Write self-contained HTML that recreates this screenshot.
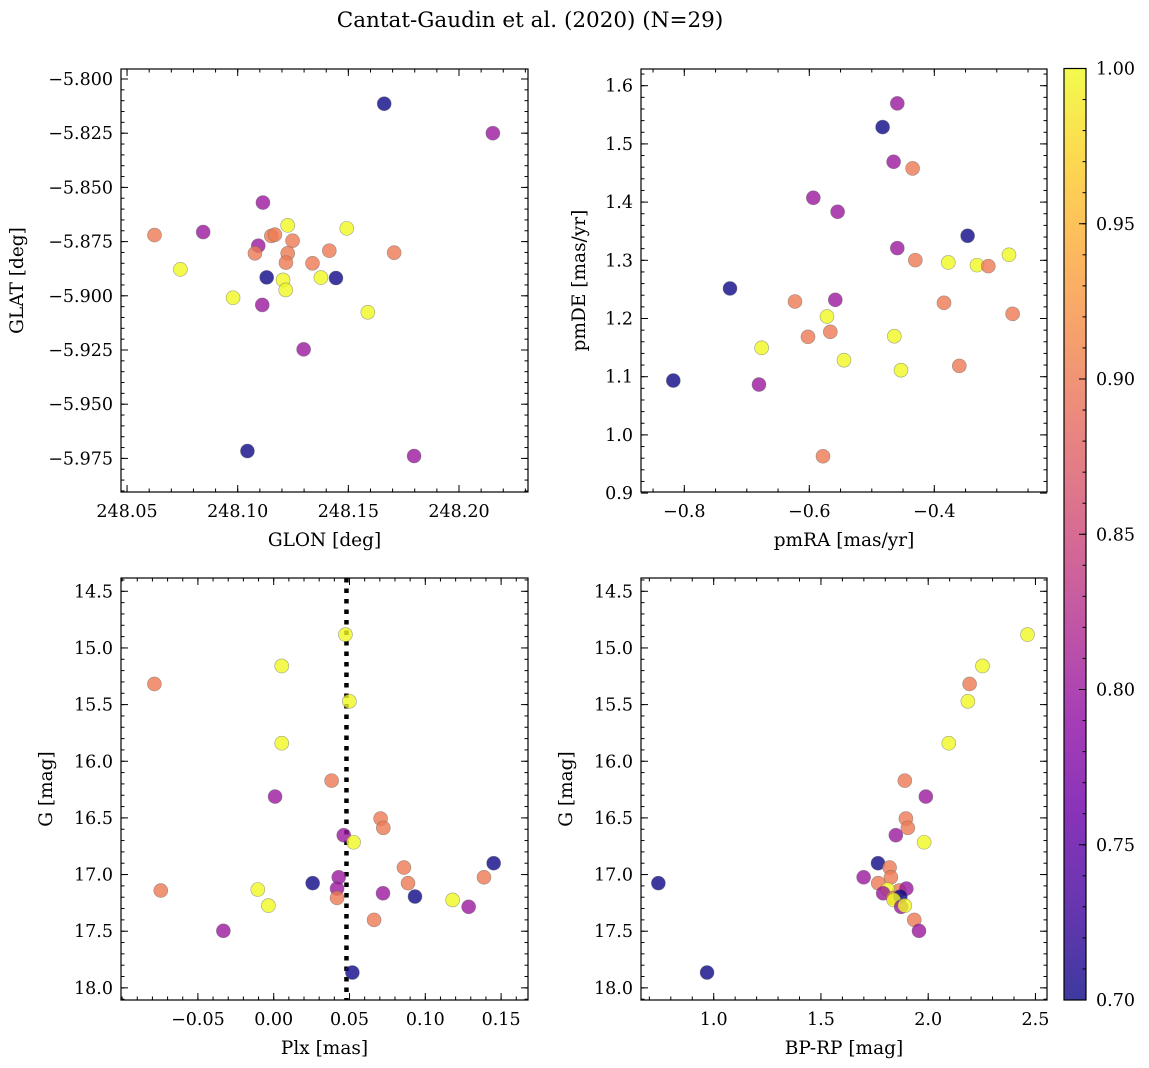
<!DOCTYPE html>
<html><head><meta charset="utf-8">
<style>
html,body{margin:0;padding:0;background:#fff;}
svg{display:block;font-family:"DejaVu Serif","Liberation Serif",serif;}
</style></head>
<body>
<svg id="fig" width="1149" height="1068" viewBox="0 0 1149 1068">
<text x="530" y="27" font-size="21.5" text-anchor="middle">Cantat-Gaudin et al. (2020) (N=29)</text>
</svg>
<script>
// Panel 1 data: GLON / GLAT
const glon = [248.1662,248.2153,248.1114,248.0624,248.0844,248.1226,248.1493,248.1152,248.1168,248.1248,248.1093,248.1078,248.1226,248.1414,248.1707,248.0741,248.1218,248.1338,248.1131,248.1205,248.1376,248.1444,248.1217,248.0979,248.1111,248.1588,248.1298,248.1044,248.1797];
const glat = [-5.8114,-5.825,-5.857,-5.872,-5.8706,-5.8675,-5.8689,-5.8724,-5.8718,-5.8746,-5.8769,-5.8804,-5.8804,-5.8792,-5.8801,-5.8878,-5.8847,-5.8850,-5.8915,-5.8927,-5.8916,-5.8918,-5.8973,-5.9009,-5.9042,-5.9076,-5.9247,-5.9716,-5.9739];
const probPos = [0.7,0.8,0.8,0.9,0.8,1,1,0.9,0.9,0.9,0.8,0.9,0.9,0.9,0.9,1,0.9,0.9,0.7,1,1,0.7,1,1,0.8,1,0.8,0.7,0.8];
// Panel 2 data: proper motions
const pmra = [-0.4592,-0.4827,-0.4651,-0.4347,-0.5936,-0.5547,-0.3467,-0.4592,-0.4304,-0.3776,-0.3317,-0.3136,-0.2805,-0.7269,-0.6229,-0.5584,-0.3845,-0.2747,-0.5717,-0.5664,-0.6021,-0.4640,-0.6763,-0.5445,-0.3600,-0.4533,-0.8176,-0.6805,-0.5781];
const pmde = [1.5696,1.5289,1.4693,1.4579,1.4074,1.3834,1.3421,1.3209,1.3003,1.2963,1.2917,1.2900,1.3095,1.2516,1.2292,1.2321,1.2269,1.2080,1.2034,1.1771,1.1685,1.1696,1.1496,1.1284,1.1186,1.1112,1.0934,1.0865,0.9633];
const probPm = [0.8,0.7,0.8,0.9,0.8,0.8,0.7,0.8,0.9,1,1,0.9,1,0.7,0.9,0.8,0.9,0.9,1,0.9,0.9,1,1,1,0.9,1,0.7,0.8,0.9];
// Panels 3,4 data: parallax, colour, magnitude
const gmag = [14.882,15.159,15.318,15.471,15.841,16.171,16.312,16.506,16.588,16.653,16.715,16.900,16.938,17.024,17.024,17.076,17.076,17.141,17.132,17.124,17.165,17.206,17.194,17.224,17.285,17.274,17.400,17.497,17.865];
const plx = [0.0473,0.0053,-0.0787,0.0499,0.0053,0.0382,0.0009,0.0705,0.0723,0.0462,0.0527,0.1451,0.0859,0.1387,0.0429,0.0257,0.0886,-0.0745,-0.0105,0.0418,0.0721,0.0418,0.0932,0.1180,0.1286,-0.0035,0.0662,-0.0332,0.0519];
const bprp = [2.463,2.253,2.193,2.185,2.096,1.891,1.989,1.896,1.905,1.849,1.981,1.766,1.820,1.826,1.699,0.742,1.767,1.865,1.811,1.898,1.790,1.837,1.870,1.839,1.874,1.891,1.935,1.957,0.969];
const probCmd = [1,1,0.9,1,1,0.9,0.8,0.9,0.9,0.8,1,0.7,0.9,0.9,0.8,0.7,0.9,0.9,1,0.8,0.8,0.9,0.7,1,0.8,1,0.9,0.8,0.7];
const plxMean = 0.048;
// tick labels
const ticks1x = [248.05,248.10,248.15,248.20];
const ticks1y = [-5.800,-5.825,-5.850,-5.875,-5.900,-5.925,-5.950,-5.975];
const ticks2x = [-0.8,-0.6,-0.4];
const ticks2y = [0.9,1.0,1.1,1.2,1.3,1.4,1.5,1.6];
const ticks3x = [-0.05,0.00,0.05,0.10,0.15];
const ticksGy = [14.5,15.0,15.5,16.0,16.5,17.0,17.5,18.0];
const ticks4x = [1.0,1.5,2.0,2.5];
const ticksCb = [0.70,0.75,0.80,0.85,0.90,0.95,1.00];

const NS='http://www.w3.org/2000/svg';
const svg=document.getElementById('fig');
const TFS=17.5, LFS=18.5;
function mk(tag,attrs,parent){const e=document.createElementNS(NS,tag);for(const k in attrs)e.setAttribute(k,attrs[k]);(parent||svg).appendChild(e);return e;}
const stops=[[13,8,135],[65,4,157],[106,0,168],[143,13,164],[177,42,144],[204,71,120],[225,100,98],[242,132,75],[252,166,54],[252,206,37],[240,249,33]];
function plasma(t){t=Math.max(0,Math.min(1,t));const f=t*10,i=Math.min(9,Math.floor(f)),r=f-i;const a=stops[i],b=stops[i+1];return 'rgb('+a.map((v,k)=>Math.round(v+(b[k]-v)*r)).join(',')+')';}
function pcol(p){return plasma((p-0.7)/0.3);}
function fmt(v,d){const s=Math.abs(v).toFixed(d);return (v<-1e-9?'−':'')+s;}

function panel(o){
  const g=mk('g',{});
  
  
  const sx=v=>o.x0+(v-o.xmin)/(o.xmax-o.xmin)*(o.x1-o.x0);
  const sy=o.inv ? (v=>o.y0+(v-o.ymin)/(o.ymax-o.ymin)*(o.y1-o.y0)) : (v=>o.y1-(v-o.ymin)/(o.ymax-o.ymin)*(o.y1-o.y0));
  if(o.vline!==undefined){
    const l=mk('line',{x1:sx(o.vline),x2:sx(o.vline),y1:o.y0,y2:o.y1,stroke:'#000','stroke-width':4.5,'stroke-dasharray':'4.5 6'},g);
    
    
  }
  for(let i=0;i<o.xs.length;i++){
    const c=mk('circle',{cx:sx(o.xs[i]),cy:sy(o.ys[i]),r:7,fill:pcol(o.ps[i]),'fill-opacity':0.8,stroke:'#666','stroke-opacity':0.6,'stroke-width':0.6},g);
    
    
  }
  const f=mk('rect',{x:o.x0,y:o.y0,width:o.x1-o.x0,height:o.y1-o.y0,fill:'none',stroke:'#000','stroke-width':1.2},g);
  
  
  const eps=1e-9;
  let start=Math.ceil((o.xmin-eps)/o.xminor)*o.xminor;
  for(let v=start;v<=o.xmax+eps;v+=o.xminor){const x=sx(v);mk('line',{x1:x,x2:x,y1:o.y1,y2:o.y1-3.5,stroke:'#000'},g);mk('line',{x1:x,x2:x,y1:o.y0,y2:o.y0+3.5,stroke:'#000'},g);}
  start=Math.ceil((o.ymin-eps)/o.yminor)*o.yminor;
  for(let v=start;v<=o.ymax+eps;v+=o.yminor){const y=sy(v);mk('line',{x1:o.x0,x2:o.x0+3.5,y1:y,y2:y,stroke:'#000'},g);mk('line',{x1:o.x1,x2:o.x1-3.5,y1:y,y2:y,stroke:'#000'},g);}
  o.xt.forEach(v=>{const x=sx(v);mk('line',{x1:x,x2:x,y1:o.y1,y2:o.y1-7,stroke:'#000'},g);mk('line',{x1:x,x2:x,y1:o.y0,y2:o.y0+7,stroke:'#000'},g);
    const t=mk('text',{x:x,y:o.y1+25,'font-size':TFS,'text-anchor':'middle'},g);t.textContent=fmt(v,o.xd);
    });
  o.yt.forEach(v=>{const y=sy(v);mk('line',{x1:o.x0,x2:o.x0+7,y1:y,y2:y,stroke:'#000'},g);mk('line',{x1:o.x1,x2:o.x1-7,y1:y,y2:y,stroke:'#000'},g);
    const t=mk('text',{x:o.x0-8,y:y+6,'font-size':TFS,'text-anchor':'end'},g);t.textContent=fmt(v,o.yd);
    });
  const xl=mk('text',{x:(o.x0+o.x1)/2,y:o.y1+54,'font-size':LFS,'text-anchor':'middle'},g);xl.textContent=o.xlabel;
  
  const yl=mk('text',{x:o.ylx,y:(o.y0+o.y1)/2,'font-size':LFS,'text-anchor':'middle',transform:'rotate(-90 '+o.ylx+' '+((o.y0+o.y1)/2)+')'},g);yl.textContent=o.ylabel;
  
}
const tlX0=121,tlX1=528,topY0=69,topY1=492,trX0=641,trX1=1047,botY0=578,botY1=1000;
panel({name:'glon-glat-panel',x0:tlX0,x1:tlX1,y0:topY0,y1:topY1,
  xmin:248.10-(237.7-121)/2213,xmax:248.10+(528-237.7)/2213,ymin:-5.800-(492-79)/2168,ymax:-5.800+10/2168,
  xs:glon,ys:glat,ps:probPos,xt:ticks1x,yt:ticks1y,xd:2,yd:3,xminor:0.01,yminor:0.005,xlabel:'GLON [deg]',ylabel:'GLAT [deg]',ylx:23});
panel({name:'proper-motion-panel',x0:trX0,x1:trX1,y0:topY0,y1:topY1,
  xmin:-0.6-(809.3-641)/625,xmax:-0.6+(1047-809.3)/625,ymin:1.6-(492-85.7)/582,ymax:1.6+16.7/582,
  xs:pmra,ys:pmde,ps:probPm,xt:ticks2x,yt:ticks2y,xd:1,yd:1,xminor:0.05,yminor:0.02,xlabel:'pmRA [mas/yr]',ylabel:'pmDE [mas/yr]',ylx:585});
panel({name:'parallax-panel',x0:tlX0,x1:tlX1,y0:botY0,y1:botY1,
  xmin:0-(273.7-121)/1516,xmax:(528-273.7)/1516,ymin:14.5-13.3/113.3,ymax:14.5+(1000-591.3)/113.3,
  xs:plx,ys:gmag,ps:probCmd,xt:ticks3x,yt:ticksGy,xd:2,yd:1,xminor:0.01,yminor:0.1,xlabel:'Plx [mas]',ylabel:'G [mag]',ylx:52,vline:plxMean,inv:true});
panel({name:'cmd-panel',x0:trX0,x1:trX1,y0:botY0,y1:botY1,
  xmin:1.0-(713.7-641)/214.5,xmax:1.0+(1047-713.7)/214.5,ymin:14.5-13.3/113.3,ymax:14.5+(1000-591.3)/113.3,
  xs:bprp,ys:gmag,ps:probCmd,xt:ticks4x,yt:ticksGy,xd:1,yd:1,xminor:0.1,yminor:0.1,xlabel:'BP-RP [mag]',ylabel:'G [mag]',ylx:572,inv:true});
// colorbar
const defs=mk('defs',{});
const lg=mk('linearGradient',{id:'cbg',x1:0,y1:1,x2:0,y2:0},defs);
for(let i=0;i<=20;i++){mk('stop',{offset:i/20,'stop-color':plasma(i/20),'stop-opacity':0.8},lg);}
const cbX0=1064,cbX1=1086,cbY0=68.5,cbY1=1000;
const cb=mk('rect',{x:cbX0,y:cbY0,width:cbX1-cbX0,height:cbY1-cbY0,fill:'url(#cbg)',stroke:'#000','stroke-width':1.2});


const cy=v=>cbY1-(v-0.70)/0.30*(cbY1-cbY0);
for(let v=0.70;v<=1.0001;v+=0.01){mk('line',{x1:cbX1,x2:cbX1-3.5,y1:cy(v),y2:cy(v),stroke:'#000'});}
ticksCb.forEach(v=>{mk('line',{x1:cbX1,x2:cbX1-7,y1:cy(v),y2:cy(v),stroke:'#000'});
  const t=mk('text',{x:cbX1+10,y:cy(v)+6,'font-size':TFS});t.textContent=v.toFixed(2);
  });
</script>
</body></html>
